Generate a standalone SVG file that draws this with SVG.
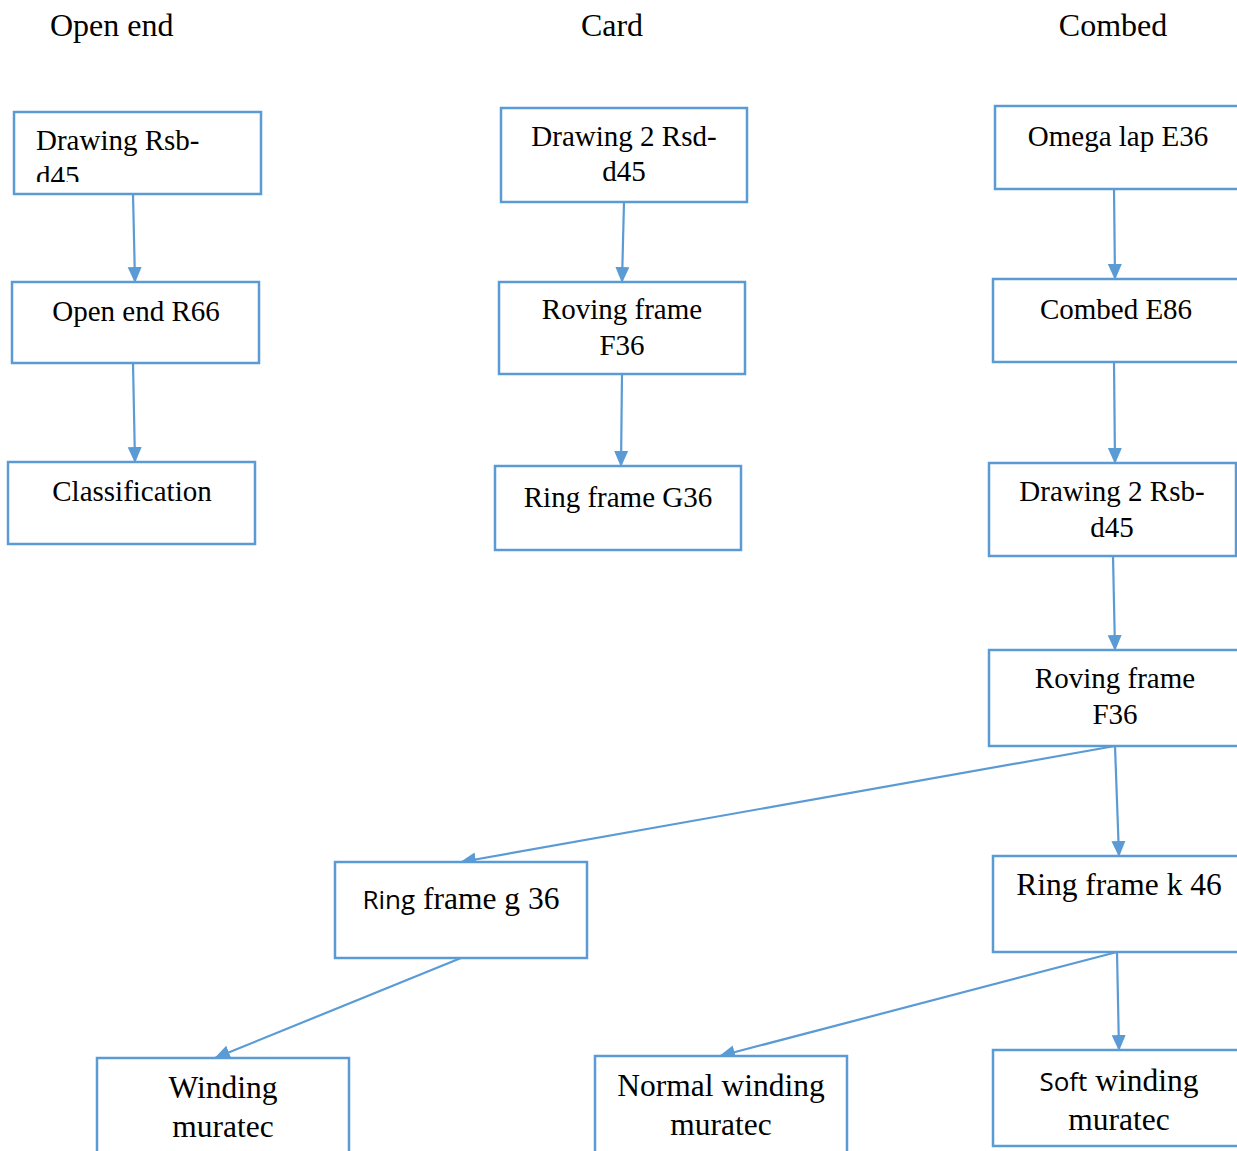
<svg xmlns="http://www.w3.org/2000/svg" width="1237" height="1151" viewBox="0 0 1237 1151">
<style>
.box{fill:#fff;stroke:#5B9BD5;stroke-width:2.5}
.t{font-family:"Liberation Serif","Times New Roman",serif;font-size:29px;fill:#000}
.h{font-size:32px}
.b{font-size:31.5px}
.m{text-anchor:middle}
.s{font-family:"Open Sans","Noto Sans",sans-serif;font-size:26px}
.c{stroke:#5B9BD5;stroke-width:2.2;fill:none;marker-end:url(#ah)}
</style>
<defs>
<marker id="ah" markerUnits="userSpaceOnUse" markerWidth="16" markerHeight="16" viewBox="0 0 16 16" refX="15" refY="8" orient="auto">
<path d="M0,1 L16,8 L0,15 Z" fill="#5B9BD5"/>
</marker>
<clipPath id="cp1"><rect x="14" y="112" width="247" height="70"/></clipPath>
</defs>
<rect width="1237" height="1151" fill="#fff"/>
<g id="headers">
<text class="t h" x="50" y="36">Open end</text>
<text class="t h m" x="612" y="36">Card</text>
<text class="t h m" x="1113" y="36">Combed</text>
</g>
<g id="connectors">
<line class="c" x1="133" y1="194" x2="135" y2="282"/>
<line class="c" x1="133" y1="363" x2="135" y2="462"/>
<line class="c" x1="624" y1="202" x2="622" y2="282"/>
<line class="c" x1="622" y1="374" x2="621" y2="466"/>
<line class="c" x1="1114" y1="189" x2="1115" y2="279"/>
<line class="c" x1="1114" y1="362" x2="1115" y2="463"/>
<line class="c" x1="1113" y1="556" x2="1115" y2="650"/>
<line class="c" x1="1115" y1="746" x2="1119" y2="856"/>
<line class="c" x1="1115" y1="746" x2="461" y2="862"/>
<line class="c" x1="461" y1="958" x2="215" y2="1058"/>
<line class="c" x1="1117" y1="952" x2="720" y2="1056"/>
<line class="c" x1="1117" y1="952" x2="1119" y2="1050"/>
</g>
<g id="n1"><rect class="box" x="14" y="112" width="247" height="82"/>
<g clip-path="url(#cp1)"><text class="t" x="36" y="150">Drawing Rsb-</text><text class="t" x="36" y="186">d45</text></g></g>
<g id="n2"><rect class="box" x="12" y="282" width="247" height="81"/><text class="t m" x="136" y="321">Open end R66</text></g>
<g id="n3"><rect class="box" x="8" y="462" width="247" height="82"/><text class="t m" x="132" y="501">Classification</text></g>
<g id="n4"><rect class="box" x="501" y="108" width="246" height="94"/><text class="t m" x="624" y="146">Drawing 2 Rsd-</text><text class="t m" x="624" y="181">d45</text></g>
<g id="n5"><rect class="box" x="499" y="282" width="246" height="92"/><text class="t m" x="622" y="319">Roving frame</text><text class="t m" x="622" y="355">F36</text></g>
<g id="n6"><rect class="box" x="495" y="466" width="246" height="84"/><text class="t m" x="618" y="507">Ring frame G36</text></g>
<g id="n7"><rect class="box" x="995" y="106" width="260" height="83"/><text class="t m" x="1118" y="146">Omega lap E36</text></g>
<g id="n8"><rect class="box" x="993" y="279" width="260" height="83"/><text class="t m" x="1116" y="319">Combed E86</text></g>
<g id="n9"><rect class="box" x="989" y="463" width="247" height="93"/><text class="t m" x="1112" y="501">Drawing 2 Rsb-</text><text class="t m" x="1112" y="537">d45</text></g>
<g id="n10"><rect class="box" x="989" y="650" width="260" height="96"/><text class="t m" x="1115" y="688">Roving frame</text><text class="t m" x="1115" y="724">F36</text></g>
<g id="n11"><rect class="box" x="335" y="862" width="252" height="96"/><text class="t b m" x="461" y="909"><tspan class="s">Ring</tspan> frame g 36</text></g>
<g id="n12"><rect class="box" x="993" y="856" width="260" height="96"/><text class="t b m" x="1119" y="895">Ring frame k 46</text></g>
<g id="n13"><rect class="box" x="97" y="1058" width="252" height="100"/><text class="t b m" x="223" y="1098">Winding</text><text class="t b m" x="223" y="1137">muratec</text></g>
<g id="n14"><rect class="box" x="595" y="1056" width="252" height="100"/><text class="t b m" x="721" y="1096">Normal winding</text><text class="t b m" x="721" y="1135">muratec</text></g>
<g id="n15"><rect class="box" x="993" y="1050" width="260" height="96"/><text class="t b m" x="1119" y="1091"><tspan class="s">Soft</tspan> winding</text><text class="t b m" x="1119" y="1130">muratec</text></g>
</svg>
